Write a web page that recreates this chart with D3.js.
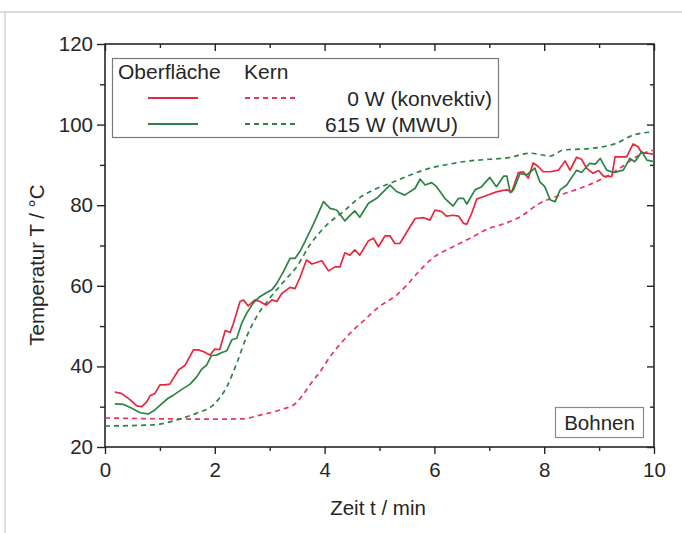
<!DOCTYPE html>
<html>
<head>
<meta charset="utf-8">
<script src="https://cdn.jsdelivr.net/npm/d3@7.9.0/dist/d3.min.js"></script>
<style>
  body { margin: 0; background: #fff; }
  svg { display: block; font-family: "Liberation Sans", Arial, sans-serif; }
</style>
</head>
<body>
<svg id="chart" width="682" height="533"></svg>
<script>
// Oberfläche, 0 W (konvektiv)  [t in min, T in °C]
const surface0W = [
  [0.18,33.6],[0.3,33.3],[0.46,31.7],[0.58,30.2],[0.67,30],[0.76,31.2],[0.82,32.7],[0.91,33.3],
  [1.0,35.4],[1.09,35.4],[1.18,35.6],[1.34,39.1],[1.46,40.3],[1.61,44.1],[1.7,44.1],[1.79,43.7],
  [1.91,42.8],[2.0,44.3],[2.09,44.2],[2.19,48.9],[2.28,48.4],[2.34,50.7],[2.46,56.1],[2.52,56.5],
  [2.61,55],[2.73,56.5],[2.82,56.1],[2.94,55.2],[3.04,56.5],[3.13,56.1],[3.22,58.1],[3.37,59.6],
  [3.46,59.3],[3.55,62],[3.67,66.4],[3.77,65.4],[3.95,66.2],[4.07,63.7],[4.19,64.7],[4.28,64.7],
  [4.37,68.2],[4.46,67.6],[4.55,68.9],[4.64,67.6],[4.8,71.2],[4.89,71.8],[4.98,69.7],[5.1,72.4],
  [5.19,72.4],[5.28,70.5],[5.37,70.5],[5.5,73.4],[5.65,76.7],[5.8,76.9],[5.92,76.3],[6.01,78.8],
  [6.13,78.4],[6.22,77.3],[6.34,77.5],[6.44,77.3],[6.53,75.5],[6.59,75.3],[6.68,78],[6.77,81.5],
  [6.89,82.1],[7.01,82.7],[7.13,83.3],[7.23,83.6],[7.32,83.8],[7.41,83.3],[7.53,88.1],[7.62,88.3],
  [7.71,86.7],[7.8,90.5],[7.89,89.6],[7.98,88.3],[8.11,88.3],[8.26,88.7],[8.38,91],[8.47,88.7],
  [8.59,91.9],[8.68,91.4],[8.77,89.2],[8.89,87.9],[8.99,88.6],[9.08,87.2],[9.23,87.1],[9.29,92],
  [9.5,92],[9.62,95.2],[9.71,94.5],[9.78,92.9],[9.88,92.9],[10,92.6]
];

// Oberfläche, 615 W (MWU)
const surface615W = [
  [0.18,30.7],[0.33,30.6],[0.49,29.6],[0.64,28.5],[0.79,28.2],[0.91,29.2],[1.03,30.7],[1.15,32.1],
  [1.24,32.8],[1.4,34.3],[1.55,35.6],[1.67,37.4],[1.76,39.3],[1.85,40.3],[1.94,42.7],[2.03,42.8],
  [2.12,43.4],[2.22,43.9],[2.31,46.6],[2.4,47],[2.49,50.7],[2.58,53.2],[2.7,55.7],[2.82,57.3],
  [2.94,58.3],[3.04,59],[3.13,60.6],[3.25,63.5],[3.37,66.8],[3.46,66.8],[3.55,68.5],[3.64,70.9],
  [3.79,75.1],[3.98,80.9],[4.1,79.2],[4.22,78.8],[4.37,76.1],[4.46,77.4],[4.55,78.6],[4.64,77],
  [4.8,80.5],[4.95,81.7],[5.19,85],[5.31,83.4],[5.46,82.5],[5.65,84.2],[5.74,86.5],[5.83,85],
  [5.95,85.6],[6.04,84.6],[6.19,81.7],[6.34,79.8],[6.44,81.7],[6.53,81.7],[6.59,80.3],[6.74,83.8],
  [6.86,84.6],[7.01,86.9],[7.13,84.6],[7.26,87.2],[7.32,87.2],[7.38,83.1],[7.44,83.8],[7.56,87.9],
  [7.68,87.5],[7.83,89.2],[7.92,85.8],[8.01,84.6],[8.11,81.3],[8.2,80.9],[8.29,83.8],[8.41,85],
  [8.59,88.7],[8.68,88.1],[8.83,90.4],[8.93,90.2],[9.02,91.6],[9.14,88.7],[9.26,88.1],[9.44,88.7],
  [9.56,91.6],[9.65,90.8],[9.78,93.3],[9.87,91.2],[10,90.8]
];

// Kern, 0 W (konvektiv)
const core0W = [
  [0,27.2],[1.0,27],[2.0,26.9],[2.5,27],[2.82,27.9],[3.19,29.2],[3.47,30.8],[3.63,33.4],[3.73,35.4],
  [3.92,38.7],[4.1,42.4],[4.3,45.8],[4.52,49],[4.7,51.2],[5.0,54.9],[5.3,57.6],[5.5,60.2],
  [5.68,63],[5.98,67],[6.34,69.7],[6.65,71.8],[7.0,74.3],[7.2,75.1],[7.56,77.1],[7.92,80.5],
  [8.29,82.5],[8.65,84.2],[9.02,86.3],[9.38,89.2],[9.74,92.5],[10,93.7]
];

// Kern, 615 W (MWU)
const core615W = [
  [0,25.2],[0.88,25.5],[1.3,26.7],[1.67,28.4],[1.97,30.4],[2.22,35],[2.4,40.8],[2.58,47.4],
  [2.76,52.3],[3.0,56.9],[3.28,61.4],[3.49,64.7],[3.73,70.1],[4.04,75.1],[4.34,78.4],[4.58,81.3],
  [4.89,83.8],[5.19,85.4],[5.56,87.5],[5.92,89.2],[6.28,90.2],[6.65,91],[7.01,91.4],[7.35,91.8],
  [7.74,92.9],[8.11,92.2],[8.35,93.7],[8.77,94],[9.14,94.7],[9.32,95.4],[9.62,97.4],[10,98.2]
];

const xMajor = [0, 2, 4, 6, 8, 10];
const xMinor = [1, 3, 5, 7, 9];
const yMajor = [20, 40, 60, 80, 100, 120];
const yMinor = [30, 50, 70, 90, 110];

const red = '#e5283f';
const green = '#2b8443';
const ink = '#262626';

const svg = d3.select('#chart');

// faint scan page edge
svg.append('line').attr('x1', 0).attr('x2', 682).attr('y1', 12).attr('y2', 12)
  .attr('stroke', '#d0d0d0').attr('stroke-width', 1.5);
svg.append('line').attr('x1', 5).attr('x2', 5).attr('y1', 12).attr('y2', 533)
  .attr('stroke', '#d0d0d0').attr('stroke-width', 1.5);

const x = d3.scaleLinear().domain([0, 10]).range([105, 654]);
const y = d3.scaleLinear().domain([20, 120]).range([447, 44]);

function styleAxis(g) {
  g.select('.domain').remove();
  g.selectAll('line').attr('stroke', ink).attr('stroke-width', 1.4);
  g.selectAll('text').attr('fill', ink).style('font-size', '20.5px')
    .style('font-family', '"Liberation Sans", Arial, sans-serif');
}

// bottom
svg.append('g').attr('transform', `translate(0,${y(20)})`)
  .call(d3.axisBottom(x).tickValues(xMajor).tickSize(7).tickPadding(8).tickFormat(d3.format('d')))
  .call(styleAxis);
svg.append('g').attr('transform', `translate(0,${y(20)})`)
  .call(d3.axisBottom(x).tickValues(xMinor).tickSize(4).tickFormat(''))
  .call(styleAxis);
// top (inward)
svg.append('g').attr('transform', `translate(0,${y(120)})`)
  .call(d3.axisTop(x).tickValues(xMajor).tickSize(-7).tickFormat(''))
  .call(styleAxis);
svg.append('g').attr('transform', `translate(0,${y(120)})`)
  .call(d3.axisTop(x).tickValues(xMinor).tickSize(-4).tickFormat(''))
  .call(styleAxis);
// left
svg.append('g').attr('transform', `translate(${x(0)},0)`)
  .call(d3.axisLeft(y).tickValues(yMajor).tickSize(8).tickPadding(4).tickFormat(d3.format('d')))
  .call(styleAxis);
svg.append('g').attr('transform', `translate(${x(0)},0)`)
  .call(d3.axisLeft(y).tickValues(yMinor).tickSize(5).tickFormat(''))
  .call(styleAxis);
// right (inward)
svg.append('g').attr('transform', `translate(${x(10)},0)`)
  .call(d3.axisRight(y).tickValues(yMajor).tickSize(-7).tickFormat(''))
  .call(styleAxis);
svg.append('g').attr('transform', `translate(${x(10)},0)`)
  .call(d3.axisRight(y).tickValues(yMinor).tickSize(-4).tickFormat(''))
  .call(styleAxis);

// frame
svg.append('rect')
  .attr('x', x(0)).attr('y', y(120))
  .attr('width', x(10) - x(0)).attr('height', y(20) - y(120))
  .attr('fill', 'none').attr('stroke', ink).attr('stroke-width', 1.6);

// series
const solid = d3.line().x(d => x(d[0])).y(d => y(d[1]));
const smooth = d3.line().x(d => x(d[0])).y(d => y(d[1])).curve(d3.curveMonotoneX);

const series = [
  { data: core0W, color: '#e6395a', dash: '5,4', gen: smooth },
  { data: core615W, color: green, dash: '5,4', gen: smooth },
  { data: surface0W, color: red, dash: null, gen: solid },
  { data: surface615W, color: green, dash: null, gen: solid },
];

svg.append('g').selectAll('path')
  .data(series)
  .join('path')
  .attr('d', s => s.gen(s.data))
  .attr('fill', 'none')
  .attr('stroke', s => s.color)
  .attr('stroke-width', 1.7)
  .attr('stroke-dasharray', s => s.dash)
  .attr('stroke-linejoin', 'round');

// axis titles
svg.append('text')
  .attr('x', 378).attr('y', 515)
  .attr('text-anchor', 'middle')
  .attr('fill', ink).style('font-size', '20.5px')
  .text('Zeit t / min');

svg.append('text')
  .attr('transform', 'translate(44,265) rotate(-90)')
  .attr('text-anchor', 'middle')
  .attr('fill', ink).style('font-size', '20.5px')
  .text('Temperatur T / °C');

// legend
const legend = svg.append('g');
legend.append('rect')
  .attr('x', 112.5).attr('y', 58.5).attr('width', 386).attr('height', 79)
  .attr('fill', '#fff').attr('stroke', '#7a7a7a').attr('stroke-width', 1.2);
legend.append('text').attr('x', 118).attr('y', 79)
  .attr('fill', ink).style('font-size', '21px').text('Oberfläche');
legend.append('text').attr('x', 244).attr('y', 79)
  .attr('fill', ink).style('font-size', '21px').text('Kern');

const legendRows = [
  { label: '0 W (konvektiv)', solidColor: red, dashColor: '#e6395a', ly: 98, ty: 106, tx: 492 },
  { label: '615 W (MWU)', solidColor: green, dashColor: green, ly: 124, ty: 132, tx: 458 },
];
legendRows.forEach(r => {
  legend.append('line').attr('x1', 148).attr('x2', 198).attr('y1', r.ly).attr('y2', r.ly)
    .attr('stroke', r.solidColor).attr('stroke-width', 1.8);
  legend.append('line').attr('x1', 245).attr('x2', 296).attr('y1', r.ly).attr('y2', r.ly)
    .attr('stroke', r.dashColor).attr('stroke-width', 1.8).attr('stroke-dasharray', '5,4');
  legend.append('text').attr('x', r.tx).attr('y', r.ty).attr('text-anchor', 'end')
    .attr('fill', ink).style('font-size', '21px').text(r.label);
});

// sample label
svg.append('rect')
  .attr('x', 555.5).attr('y', 407.5).attr('width', 88).attr('height', 30)
  .attr('fill', '#fff').attr('stroke', '#8a8a8a').attr('stroke-width', 1.2);
svg.append('text')
  .attr('x', 599.5).attr('y', 430).attr('text-anchor', 'middle')
  .attr('fill', ink).style('font-size', '20.5px')
  .text('Bohnen');
</script>
</body>
</html>
